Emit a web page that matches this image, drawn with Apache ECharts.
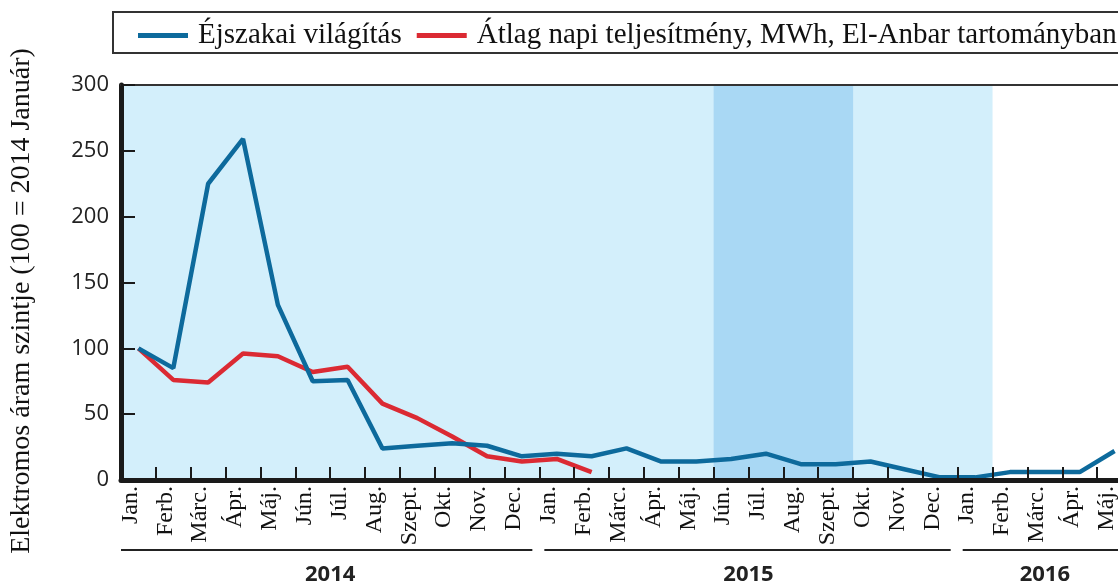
<!DOCTYPE html>
<html>
<head>
<meta charset="utf-8">
<style>html,body{margin:0;padding:0;background:#fff;overflow:hidden}#c{width:1135px;height:583px}</style>
<script src="https://cdn.jsdelivr.net/npm/echarts@6/dist/echarts.min.js"></script>
</head>
<body>
<div id="c"></div>
<script>
const monthNames = ['Jan.','Ferb.','Márc.','Ápr.','Máj.','Jún.','Júl.','Aug.','Szept.','Okt.','Nov.','Dec.'];
const categories = [].concat(monthNames, monthNames, monthNames.slice(0,5));
const nightLight = [100,85,225,259,133,75,76,24,26,28,26,18,20,18,24,14,14,16,20,12,12,14,8,2,2,6,6,6,22];
const dailyPower = [100,76,74,96,94,82,86,58,47,33,18,14,16,6];
const years = ['2014','2015','2016'];
const yearMonths = [12,12,5];
const yTicks = [0,50,100,150,200,250,300];
const shadeLight = [0,25];   // Jan 2014 – Jan 2016
const shadeDark = [17,21];   // Jún – Szept 2015
const seriesNames = ['Éjszakai világítás','Átlag napi teljesítmény, MWh, El-Anbar tartományban'];

const chart = echarts.init(document.getElementById('c'), null, {renderer:'canvas'});
const serif = 'Liberation Serif';
const sans = 'Open Sans';
const N = categories.length;

const option = {
  animation:false,
  grid:{left:121, top:85, right:3, bottom:103, containLabel:false},
  legend:{
    left:133, top:16, itemGap:15, itemWidth:50, itemHeight:5, icon:'rect',
    textStyle:{fontFamily:serif, fontSize:29, color:'#111', padding:[0,0,0,5]},
    data:seriesNames
  },
  xAxis:[
    {type:'category', data:categories, boundaryGap:true, position:'bottom', z:10,
     axisLine:{show:true, onZero:false, lineStyle:{color:'#1a1a1a', width:5}},
     axisTick:{show:true, inside:true, length:13, lineStyle:{color:'#1a1a1a', width:2}},
     axisLabel:{rotate:90, interval:0, margin:6, fontFamily:serif, fontSize:24, color:'#111',
                verticalAlign:'bottom', lineHeight:16},
     splitLine:{show:false}},
    {type:'value', min:0, max:N, show:false},
    {type:'category', data:categories, position:'top', z:10,
     axisLine:{show:true, lineStyle:{color:'#333', width:2}},
     axisTick:{show:false}, axisLabel:{show:false}}
  ],
  yAxis:{type:'value', min:yTicks[0], max:yTicks[yTicks.length-1], interval:50, z:10,
     axisLine:{show:true, lineStyle:{color:'#1a1a1a', width:5}},
     axisTick:{show:true, inside:true, length:14, lineStyle:{color:'#1a1a1a', width:2}},
     axisLabel:{fontFamily:sans, fontSize:22, color:'#222', margin:12},
     splitLine:{show:false}},
  series:[
    {type:'line', xAxisIndex:1, data:[], z:0, silent:true,
     markArea:{silent:true, itemStyle:{color:'#d3effb'}, data:[[{xAxis:shadeLight[0]},{xAxis:shadeLight[1]}]]}},
    {type:'line', xAxisIndex:1, data:[], z:1, silent:true,
     markArea:{silent:true, itemStyle:{color:'#a9d8f4'}, data:[[{xAxis:shadeDark[0]},{xAxis:shadeDark[1]}]]}},
    {name:seriesNames[0], type:'line', data:nightLight, symbol:'none', z:5,
     lineStyle:{color:'#0d6a9c', width:4.5}, itemStyle:{color:'#0d6a9c'}},
    {name:seriesNames[1], type:'line', data:dailyPower, symbol:'none', z:4,
     lineStyle:{color:'#db2a33', width:4.5}, itemStyle:{color:'#db2a33'}}
  ]
};
chart.setOption(option);

// decorations derived from axis scale
const px = v => chart.convertToPixel({xAxisIndex:1}, v);
const graphics = [];
graphics.push({type:'rect', shape:{x:113, y:12, width:1100, height:41},
  style:{fill:'none', stroke:'#333', lineWidth:2}, z:-1});
let start = 0;
years.forEach((y, i) => {
  const a = px(start), b = px(start + yearMonths[i]);
  const x1 = i === 0 ? a : a + 5;
  const x2 = b - 7;
  graphics.push({type:'line', shape:{x1:x1, y1:550, x2:x2, y2:550}, style:{stroke:'#222', lineWidth:2}});
  graphics.push({type:'text', x:(a+b)/2, y:575, style:{text:y, font:'bold 22px "Open Sans"', fill:'#222', align:'center', verticalAlign:'middle'}});
  start += yearMonths[i];
});
graphics.push({type:'text', x:22, y:301, rotation:Math.PI/2,
  style:{text:'Elektromos áram szintje (100 = 2014 Január)', font:'28px "Liberation Serif"', fill:'#111', align:'center', verticalAlign:'middle'}});
chart.setOption({graphic:graphics});
</script>
</body>
</html>
